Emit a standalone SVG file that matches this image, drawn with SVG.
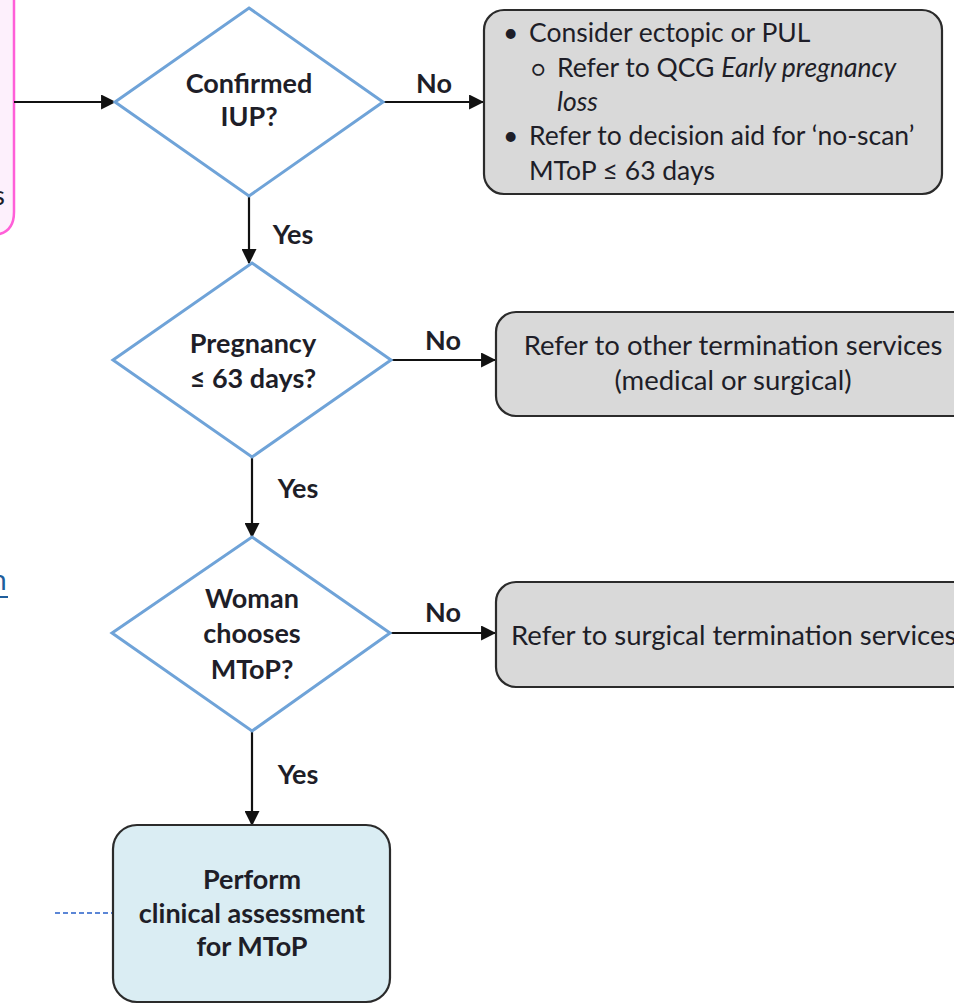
<svg xmlns="http://www.w3.org/2000/svg" width="954" height="1004" viewBox="0 0 954 1004">
  <defs>
    <marker id="arrow" viewBox="0 0 14 14" refX="13" refY="7" markerWidth="15" markerHeight="15" markerUnits="userSpaceOnUse" orient="auto">
      <path d="M0,0 L14,7 L0,14 Z" fill="#111"/>
    </marker>
    <style>
      text { font-family: Lato, "Liberation Sans", sans-serif; fill: #1e1e28; }
      .lbl { font-size: 27px; font-weight: bold; }
      .box { font-size: 27.5px; }
      .box1 { font-size: 26.5px; }
      .dia { fill: #ffffff; stroke: #6fa3d8; stroke-width: 3; }
      .grey { fill: #d9d9d9; stroke: #2b2b2b; stroke-width: 2.2; }
      .blue { fill: #daedf3; stroke: #2b2b2b; stroke-width: 2.2; }
      .conn { stroke: #111; stroke-width: 2.2; fill: none; }
    </style>
  </defs>
  <rect width="954" height="1004" fill="#ffffff"/>

  <!-- partially visible entry box on the left -->
  <g id="entry">
    <path d="M-30,-10 L14,-10 L14,212 Q14,235 -9,235 L-30,235 Z" fill="#fdf0fc" stroke="#ff5fd8" stroke-width="2.5"/>
    <text x="-7" y="205" class="box" fill="#3a4a6a">s</text>
  </g>

  <!-- partially visible link text -->
  <g id="link">
    <text x="-9" y="590" style="font-size:28px; fill:#1f5e9c">n</text>
    <line x1="0" y1="597" x2="8" y2="597" stroke="#1f5e9c" stroke-width="2"/>
  </g>

  <g id="connectors">
    <line class="conn" x1="14" y1="102" x2="115" y2="102" marker-end="url(#arrow)"/>
    <line class="conn" x1="383" y1="102" x2="483" y2="102" marker-end="url(#arrow)"/>
    <line class="conn" x1="249" y1="196" x2="249" y2="263" marker-end="url(#arrow)"/>
    <line class="conn" x1="391" y1="360" x2="495" y2="360" marker-end="url(#arrow)"/>
    <line class="conn" x1="252" y1="457" x2="252" y2="537" marker-end="url(#arrow)"/>
    <line class="conn" x1="390" y1="633" x2="495" y2="633" marker-end="url(#arrow)"/>
    <line class="conn" x1="252" y1="731" x2="252" y2="825" marker-end="url(#arrow)"/>
    <line x1="55" y1="913" x2="113" y2="913" stroke="#5b86d6" stroke-width="2" stroke-dasharray="5,3"/>
    <text x="434" y="93" class="lbl" text-anchor="middle">No</text>
    <text x="293" y="244" class="lbl" text-anchor="middle">Yes</text>
    <text x="443" y="350" class="lbl" text-anchor="middle">No</text>
    <text x="298" y="498" class="lbl" text-anchor="middle">Yes</text>
    <text x="443" y="622" class="lbl" text-anchor="middle">No</text>
    <text x="298" y="784" class="lbl" text-anchor="middle">Yes</text>
  </g>

  <g id="q-iup">
    <path class="dia" d="M249,8 L383,102 L249,196 L115,102 Z"/>
    <text x="249" y="93" class="lbl" text-anchor="middle">Confirmed</text>
    <text x="249" y="126" class="lbl" text-anchor="middle">IUP?</text>
  </g>

  <g id="ectopic">
    <rect class="grey" x="484" y="10" width="458" height="184" rx="20"/>
    <text class="box1">
      <tspan x="503" y="42">•</tspan><tspan x="529" y="42">Consider ectopic or PUL</tspan>
      <tspan x="531" y="77" font-size="22">○</tspan><tspan x="557" y="77">Refer to QCG <tspan font-style="italic">Early pregnancy</tspan></tspan>
      <tspan x="557" y="111" font-style="italic">loss</tspan>
      <tspan x="503" y="145">•</tspan><tspan x="529" y="145">Refer to decision aid for ‘no-scan’</tspan>
      <tspan x="529" y="180">MToP ≤ 63 days</tspan>
    </text>
  </g>

  <g id="q-days">
    <path class="dia" d="M252,263 L391,360 L252,457 L113,360 Z"/>
    <text x="253" y="353" class="lbl" text-anchor="middle">Pregnancy</text>
    <text x="253" y="388" class="lbl" text-anchor="middle">≤ 63 days?</text>
  </g>

  <g id="other-services">
    <rect class="grey" x="496" y="312" width="480" height="104" rx="20"/>
    <text x="733" y="355" class="box" text-anchor="middle">Refer to other termination services</text>
    <text x="733" y="390" class="box" text-anchor="middle">(medical or surgical)</text>
  </g>

  <g id="q-choice">
    <path class="dia" d="M252,537 L390,633 L252,731 L112,633 Z"/>
    <text x="252" y="608" class="lbl" text-anchor="middle">Woman</text>
    <text x="252" y="643" class="lbl" text-anchor="middle">chooses</text>
    <text x="252" y="679" class="lbl" text-anchor="middle">MToP?</text>
  </g>

  <g id="surgical">
    <rect class="grey" x="496" y="582" width="480" height="105" rx="20"/>
    <text x="511" y="645" class="box">Refer to surgical termination services</text>
  </g>

  <g id="assessment">
    <rect class="blue" x="113" y="825" width="277" height="177" rx="24"/>
    <text x="252" y="889" class="lbl" text-anchor="middle">Perform</text>
    <text x="252" y="923" class="lbl" text-anchor="middle">clinical assessment</text>
    <text x="252" y="956" class="lbl" text-anchor="middle">for MToP</text>
  </g>
</svg>
